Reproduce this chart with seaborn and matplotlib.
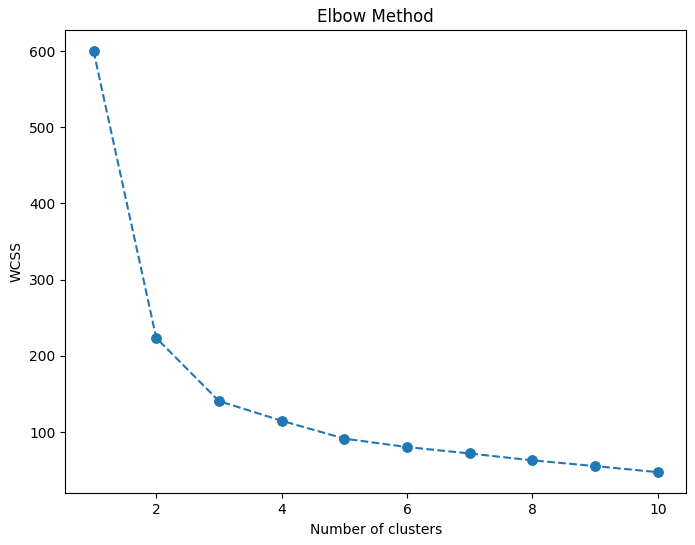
import matplotlib
matplotlib.use("Agg")
import matplotlib.pyplot as plt
import seaborn as sns
import pandas as pd

clusters = [1, 2, 3, 4, 5, 6, 7, 8, 9, 10]
wcss = [600.0, 223.7, 140.8, 115.0, 91.5, 80.5, 72.0, 63.0, 55.5, 47.5]

df = pd.DataFrame({"clusters": clusters, "wcss": wcss})

fig, ax = plt.subplots(figsize=(6.95, 5.45), dpi=100)
fig.subplots_adjust(left=0.094, right=0.987, top=0.945, bottom=0.095)
sns.lineplot(data=df, x="clusters", y="wcss", marker="o", linestyle="--",
             color="#1f77b4", markersize=7, markeredgecolor="#1f77b4", ax=ax)
ax.set_title("Elbow Method")
ax.set_xlabel("Number of clusters")
ax.set_ylabel("WCSS")
fig.savefig("out.png", dpi=100)
